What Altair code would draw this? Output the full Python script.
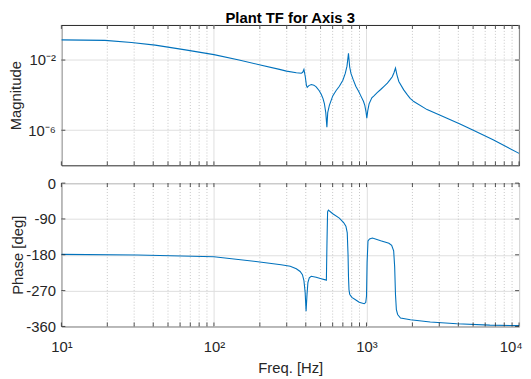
import altair as alt
import pandas as pd

# ---------------- data ----------------
title_text = "Plant TF for Axis 3"

mag_freq = [10, 19.3, 28.8, 41.2, 65, 100, 146, 198, 269, 299, 347, 374, 382, 389,
            397, 404, 409, 419, 435, 452, 468, 490, 505, 519, 530, 541, 550, 557,
            571, 601, 631, 664, 700, 726, 745, 762, 776, 791, 817, 851, 891, 918,
            955, 975, 993, 1005, 1019, 1040, 1084, 1119, 1175, 1239, 1303, 1371,
            1429, 1476, 1514, 1549, 1585, 1629, 1754, 1849, 1932, 2042, 2495, 3041,
            4102, 5012, 6761, 10000]
mag_val = [1.41e-1, 1.32e-1, 1.0e-1, 7.1e-2, 3.8e-2, 2.04e-2, 1.0e-2, 5.4e-3, 2.95e-3,
           2.34e-3, 1.9e-3, 1.78e-3, 2.0e-3, 2.95e-3, 1.12e-3, 3.5e-4, 2.8e-4, 3.5e-4,
           4.0e-4, 3.7e-4, 2.95e-4, 1.78e-4, 1.12e-4, 6.3e-5, 3.2e-5, 1.0e-5, 1.5e-6,
           1.0e-5, 2.6e-5, 9.1e-5, 1.78e-4, 3.2e-4, 7.1e-4, 1.74e-3, 4.5e-3, 2.4e-2,
           4.0e-3, 1.74e-3, 7.9e-4, 3.2e-4, 1.58e-4, 9.1e-5, 4.5e-5, 2.6e-5, 1.1e-5,
           4.9e-6, 1.26e-5, 3.2e-5, 7.1e-5, 9.1e-5, 1.4e-4, 2.1e-4, 3.2e-4, 4.9e-4,
           7.6e-4, 1.12e-3, 1.9e-3, 3.5e-3, 1.4e-3, 6.0e-4, 2.0e-4, 1.07e-4, 6.6e-5,
           4.3e-5, 1.5e-5, 7.1e-6, 2.3e-6, 1.0e-6, 2.9e-7, 4.8e-8]

phase_freq = [10, 31.6, 100, 199.5, 275.4, 316.2, 346.7, 367.3, 380.2, 389.0, 396.3,
              401.8, 407.4, 413.0, 421.7, 434.5, 467.7, 504.7, 538.3, 545.8, 550.8,
              555.9, 562.3, 601.2, 663.7, 707.9, 732.8, 748, 757, 762, 768, 776,
              801.7, 847.2, 895.4, 966.1, 988.6, 1000, 1009, 1023, 1047, 1094, 1239,
              1403, 1462, 1507, 1530, 1549, 1570, 1600, 1671, 1941, 2618, 3908,
              6427, 10000]
phase_val = [-179, -180.5, -185, -198, -205, -209, -215, -222, -230, -245, -275,
             -322, -280, -250, -238, -234, -236.5, -240, -243, -244, -150,
             -72, -68, -77, -88, -99, -108, -125, -180, -235, -268, -279,
             -287, -293, -299, -303, -300, -284, -200, -145, -140, -138, -145,
             -151, -156, -170, -210, -280, -318, -330, -339, -343, -349, -353.3,
             -356.7, -358]

x_major = [10, 100, 1000, 10000]
x_minor = [20, 30, 40, 50, 60, 70, 80, 90,
           200, 300, 400, 500, 600, 700, 800, 900,
           2000, 3000, 4000, 5000, 6000, 7000, 8000, 9000]
mag_ticks = [1e-6, 1e-2]
phase_ticks = [-360, -270, -180, -90, 0]
freq_domain = [10, 10000]
mag_domain = [1e-8, 1]
phase_domain = [-360, 0]

# ---------------- styling ----------------
W = 463
H1 = 142
H2 = 145
FONT = "Liberation Sans"
INK = "#262626"
BLUE = "#0072BD"
GRID = "#dfdfdf"
MINOR = "#b8b8b8"

mag_df = pd.DataFrame({"f": mag_freq, "v": mag_val})
phase_df = pd.DataFrame({"f": phase_freq, "v": phase_val})
major_df = pd.DataFrame({"f": x_major})
minor_df = pd.DataFrame({"f": x_minor})
magt_df = pd.DataFrame({"v": mag_ticks})
phat_df = pd.DataFrame({"v": phase_ticks})
title_df = pd.DataFrame({"t": [title_text]})

xs = alt.Scale(type="log", domain=freq_domain, nice=False)
ys_mag = alt.Scale(type="log", domain=mag_domain, nice=False)
ys_pha = alt.Scale(type="linear", domain=phase_domain, nice=False, zero=False)

x_label_expr = ("datum.value < 50 ? '10¹' : datum.value < 500 ? '10²' : "
                "datum.value < 5000 ? '10³' : '10⁴'")


def panel(df, ys, yticks_df, y_axis, x_axis, h, extra=None):
    X = lambda: alt.X("f:Q", scale=xs, axis=x_axis)
    Y = lambda: alt.Y("v:Q", scale=ys, axis=y_axis)
    layers = []
    if x_axis is None:
        layers.append(alt.Chart(major_df).mark_rule(color=GRID, strokeWidth=1)
                      .encode(x=X()))
    layers.append(alt.Chart(minor_df).mark_rule(
        color=MINOR, strokeWidth=0.8, strokeDash=[1, 2]).encode(x=X()))
    layers.append(alt.Chart(df).mark_line(color=BLUE, strokeWidth=1.1, clip=True)
                  .encode(x=X(), y=Y(), order="f:Q"))
    tick_x_df = pd.concat([major_df, minor_df])
    layers.append(alt.Chart(tick_x_df).mark_rule(color=INK, strokeWidth=0.8).encode(
        x=X(), y=alt.value(h), y2=alt.value(h - 4)))
    layers.append(alt.Chart(tick_x_df).mark_rule(color=INK, strokeWidth=0.8).encode(
        x=X(), y=alt.value(0), y2=alt.value(4)))
    layers.append(alt.Chart(yticks_df).mark_rule(color=INK, strokeWidth=0.8).encode(
        y=Y(), x=alt.value(0), x2=alt.value(4)))
    layers.append(alt.Chart(yticks_df).mark_rule(color=INK, strokeWidth=0.8).encode(
        y=Y(), x=alt.value(W), x2=alt.value(W - 4)))
    if extra is not None:
        layers.append(extra)
    return alt.layer(*layers).properties(width=W, height=h)


common_axis = dict(
    labelFont=FONT, labelFontSize=15, labelColor=INK,
    titleFont=FONT, titleFontSize=15, titleColor=INK, titleFontWeight="normal",
    ticks=False, domain=False, grid=True, gridColor=GRID, gridWidth=1,
)

title_mark = alt.Chart(title_df).mark_text(
    font=FONT, fontSize=15, fontWeight="bold", color="#000000",
    align="center", baseline="alphabetic",
).encode(text="t:N", x=alt.value(W / 2), y=alt.value(-2))

top = panel(
    mag_df, ys_mag, magt_df,
    alt.Axis(values=mag_ticks, title="Magnitude",
             labelExpr="datum.value < 1e-4 ? '10⁻⁶' : '10⁻²'",
             labelPadding=6, titlePadding=4, **common_axis),
    None,
    H1,
    extra=title_mark,
)

bottom = panel(
    phase_df, ys_pha, phat_df,
    alt.Axis(values=phase_ticks, title="Phase [deg]", labelExpr="'' + datum.value",
             labelPadding=6, titlePadding=0, **common_axis),
    alt.Axis(values=x_major, title="Freq. [Hz]", labelExpr=x_label_expr,
             labelFlush=False, labelOverlap=False, labelPadding=13, titlePadding=7,
             labelAlign={"condition": {"test": "datum.value > 5000", "value": "right"},
                         "value": "center"},
             labelOffset={"condition": {"test": "datum.value > 5000", "value": 3},
                          "value": 0},
             **common_axis),
    H2,
)

chart = alt.vconcat(top, bottom, spacing=9).properties(
    padding={"left": 0, "top": 0, "right": 0, "bottom": 0},
    background="white",
).configure_view(stroke=INK, strokeWidth=1)

chart.save("out.html", embed_options={"renderer": "svg", "actions": False})
